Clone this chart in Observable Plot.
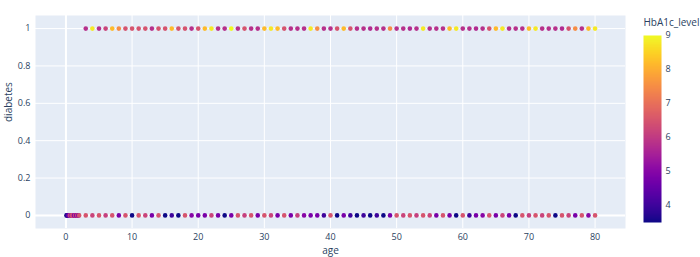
<!DOCTYPE html>
<html><head><meta charset="utf-8">
<script src="https://cdn.jsdelivr.net/npm/d3@7"></script>
<script src="https://cdn.jsdelivr.net/npm/@observablehq/plot@0.6"></script>
<style>
body{margin:0;background:#fff;font-family:"Open Sans",sans-serif;}
#wrap{position:relative;width:700px;height:257px;overflow:hidden;}
#main{position:absolute;left:0;top:0;}
#cb{position:absolute;left:636px;top:0;}
svg{overflow:visible;}
</style></head><body><div id="wrap"><div id="main"></div><div id="cb"></div></div>
<script>
// diabetes = 1
const ageDiabetes = [3,4,5,6,7,8,9,10,11,12,13,14,15,16,17,18,19,20,21,22,23,24,25,26,27,28,29,30,31,32,33,34,35,36,37,38,39,40,41,42,43,44,45,46,47,48,49,50,51,52,53,54,55,56,57,58,59,60,61,62,63,64,65,66,67,68,69,70,71,72,73,74,75,76,77,78,79,80];
const hba1cDiabetes = [5.8,8.8,5.8,6.2,8.2,7.5,6.5,6.5,6.5,6.5,5.8,6.5,6.5,8.2,6.5,6.5,5.8,6.5,8.2,8.8,5.8,5.8,9.0,5.8,6.5,5.8,5.8,8.2,8.8,8.2,6.5,5.8,5.8,5.8,8.8,7.5,5.8,5.8,6.5,8.2,6.5,5.8,5.8,5.7,5.8,5.8,7.5,5.8,5.8,5.7,5.8,8.8,5.8,5.8,5.8,8.2,8.8,5.8,5.8,5.7,5.8,6.5,8.2,8.8,5.8,5.8,5.8,8.2,8.8,5.8,5.8,5.8,5.7,6.5,7.5,5.8,8.2,8.8];
// diabetes = 0
const ageNoDiabetes = [0.08,0.16,0.24,0.32,0.4,0.48,0.56,0.64,0.72,0.8,0.88,1.0,1.08,1.16,1.24,1.32,1.4,1.48,1.56,1.64,1.72,1.8,1.88,2,3,4,5,6,7,8,9,10,11,12,13,14,15,16,17,18,19,20,21,22,23,24,25,26,27,28,29,30,31,32,33,34,35,36,37,38,39,40,41,42,43,44,45,46,47,48,49,50,51,52,53,54,55,56,57,58,59,60,61,62,63,64,65,66,67,68,69,70,71,72,73,74,75,76,77,78,79,80];
const hba1cNoDiabetes = [3.5,4.0,3.5,4.8,4.0,5.0,4.8,6.5,6.2,4.8,6.5,6.1,6.5,6.2,4.8,5.0,6.5,6.2,4.8,5.0,6.5,6.1,4.8,6.5,6.5,6.2,6.5,6.1,6.5,4.8,6.5,3.5,6.5,6.2,4.8,6.5,3.5,4.0,3.5,6.5,5.0,4.8,4.8,6.2,4.8,3.5,4.8,6.5,6.1,6.5,4.8,6.5,6.2,4.8,6.5,4.8,6.1,5.0,4.8,4.8,4.0,6.5,3.5,4.8,4.0,3.5,4.0,3.5,4.0,3.5,4.8,6.5,6.2,6.5,6.1,6.5,6.2,4.8,6.5,4.8,3.5,6.5,4.0,4.8,5.0,6.5,4.8,6.2,4.8,3.5,6.5,6.1,6.5,6.2,6.5,3.5,6.5,6.2,4.8,6.5,5.0,6.5];
const xTicks = [0,10,20,30,40,50,60,70,80];
const yTicks = [0,0.2,0.4,0.6,0.8,1];
const colorTicks = [4,5,6,7,8,9];

const rows0 = ageNoDiabetes.map((a,i)=>({age:a, diabetes:0, HbA1c_level:hba1cNoDiabetes[i]}));
const rows1 = ageDiabetes.map((a,i)=>({age:a, diabetes:1, HbA1c_level:hba1cDiabetes[i]}));
const color = {type:"linear", scheme:"plasma", domain:[3.5,9]};
const txt = "#2a3f5f";

const main = Plot.plot({
  width:700, height:257, marginLeft:35, marginRight:75, marginTop:15, marginBottom:29,
  style:{fontFamily:"'Open Sans', sans-serif", fontSize:"9px", color:txt, background:"transparent"},
  x:{domain:[-4.6,84.6], ticks:xTicks, label:null},
  y:{domain:[-0.07,1.07], ticks:yTicks, label:null},
  color,
  marks:[
    Plot.frame({fill:"#E5ECF6", stroke:null}),
    Plot.gridX(xTicks, {stroke:"white", strokeOpacity:1, strokeWidth:1}),
    Plot.gridY(yTicks, {stroke:"white", strokeOpacity:1, strokeWidth:1}),
    Plot.ruleX([0], {stroke:"white", strokeWidth:2}),
    Plot.ruleY([0], {stroke:"white", strokeWidth:2}),
    Plot.axisX(xTicks, {tickSize:0, tickPadding:5, label:null, fill:txt}),
    Plot.axisY(yTicks, {tickSize:0, tickPadding:5, label:null, fill:txt, tickFormat:d=>String(d)}),
    Plot.dot(rows0, {x:"age", y:"diabetes", fill:"HbA1c_level", r:2.3}),
    Plot.dot(rows1, {x:"age", y:"diabetes", fill:"HbA1c_level", r:2.3}),
    Plot.text(["age"], {frameAnchor:"bottom", lineAnchor:"middle", dy:22, fontSize:10, fill:txt}),
    Plot.text(["diabetes"], {frameAnchor:"left", dx:-27, rotate:-90, fontSize:10, fill:txt})
  ]
});
document.getElementById("main").append(main);

const cb = Plot.plot({
  width:64, height:257, marginTop:35, marginBottom:35, marginLeft:7, marginRight:39,
  style:{fontFamily:"'Open Sans', sans-serif", fontSize:"9px", color:txt, background:"transparent"},
  x:{domain:[0,1], axis:null},
  y:{domain:[3.5,9], ticks:colorTicks, label:null, axis:null},
  color,
  marks:[
    Plot.raster({fill:(x,y)=>y, x1:0, x2:1, y1:3.5, y2:9, pixelSize:1}),
    Plot.axisY(colorTicks, {anchor:"right", tickSize:0, tickPadding:4, label:null, fill:txt}),
    Plot.text(["HbA1c_level"], {frameAnchor:"top-left", lineAnchor:"bottom", dy:-10, textAnchor:"start", fontSize:10, fill:txt})
  ]
});
document.getElementById("cb").append(cb);
</script></body></html>
